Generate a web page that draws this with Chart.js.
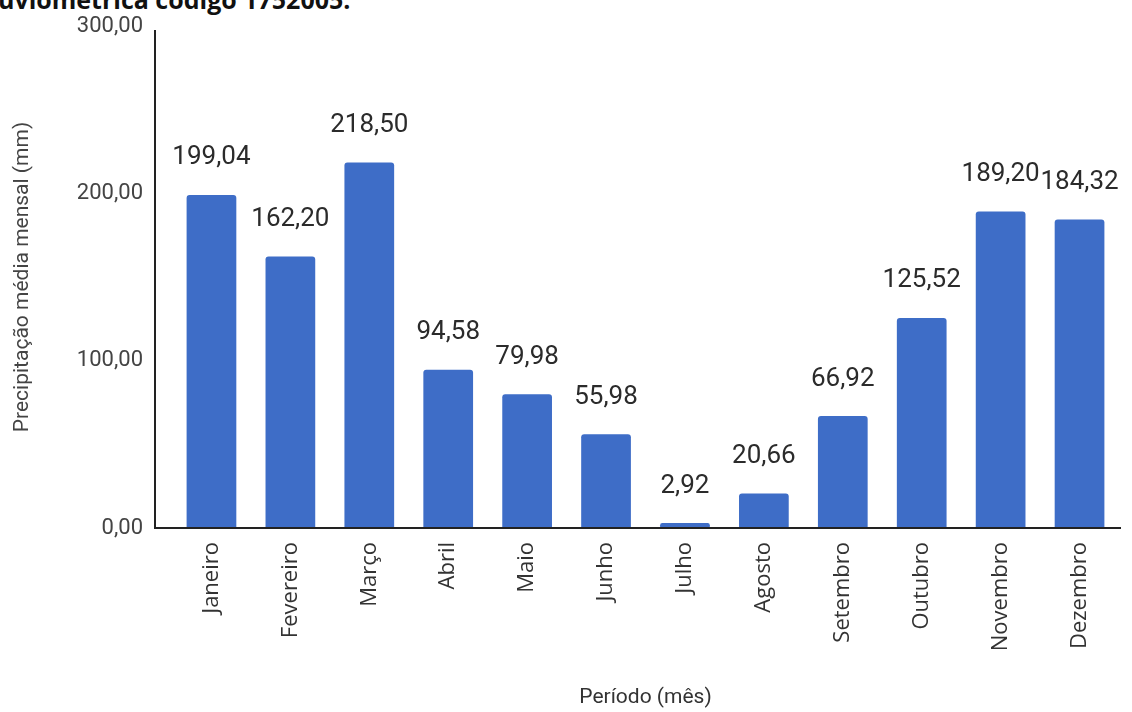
<!DOCTYPE html>
<html lang="pt-BR">
<head>
<meta charset="utf-8">
<title>Precipitação média mensal</title>
<script src="https://cdn.jsdelivr.net/npm/chart.js@4/dist/chart.umd.min.js"></script>
<style>
  html, body { margin: 0; padding: 0; background: #fff; overflow: hidden; }
  #wrap { position: relative; width: 1132px; height: 712px; }
  #caption {
    position: absolute; left: -2px; top: -18px; margin: 0;
    font: bold 25px "Open Sans", sans-serif; color: #111; white-space: nowrap;
  }
  canvas { position: absolute; left: 0; top: 0; }
</style>
</head>
<body>
<div id="wrap">
  <p id="caption">uviométrica código 1752005.</p>
  <canvas id="rainChart" width="1132" height="712"></canvas>
</div>
<script>
const months = ["Janeiro", "Fevereiro", "Março", "Abril", "Maio", "Junho",
  "Julho", "Agosto", "Setembro", "Outubro", "Novembro", "Dezembro"];
const rainfall = [199.04, 162.20, 218.50, 94.58, 79.98, 55.98,
  2.92, 20.66, 66.92, 125.52, 189.20, 184.32];
const yTicks = [0, 100, 200, 300];

const fmt = (v) => v.toFixed(2).replace(".", ",");

// value above each bar, plus the two axis lines (the y line sits a bit left of the plot)
const barLabels = {
  id: "barLabels",
  afterDatasetsDraw(chart) {
    const ctx = chart.ctx;
    const meta = chart.getDatasetMeta(0);
    ctx.save();
    ctx.font = "26px Roboto";
    ctx.fillStyle = "#2b2b2b";
    ctx.textAlign = "center";
    ctx.textBaseline = "middle";
    meta.data.forEach((bar, i) => {
      ctx.fillText(fmt(rainfall[i]), bar.x, bar.y - 37);
    });
    ctx.restore();
  },
  afterDraw(chart) {
    const { ctx, chartArea } = chart;
    const x0 = chartArea.left - 17;
    ctx.save();
    ctx.strokeStyle = "#222";
    ctx.lineWidth = 2;
    ctx.beginPath();
    ctx.moveTo(x0, chartArea.top + 4);
    ctx.lineTo(x0, chartArea.bottom);
    ctx.lineTo(chartArea.right + 2, chartArea.bottom);
    ctx.stroke();
    ctx.restore();
  },
};

new Chart(document.getElementById("rainChart").getContext("2d"), {
  type: "bar",
  data: {
    labels: months,
    datasets: [
      {
        label: "Precipitação média mensal (mm)",
        data: rainfall,
        backgroundColor: "#3e6dc7",
        borderRadius: 3,
        borderSkipped: "bottom",
        barPercentage: 0.63,
        categoryPercentage: 1,
      },
    ],
  },
  options: {
    responsive: false,
    animation: false,
    layout: { padding: { top: 26, right: 13, bottom: 0, left: 0 } },
    plugins: {
      legend: { display: false },
      tooltip: { enabled: false },
    },
    scales: {
      x: {
        afterFit: (scale) => { scale.height = 184; },
        grid: { display: false, drawTicks: false },
        border: { display: false },
        ticks: {
          maxRotation: 90,
          minRotation: 90,
          padding: 14,
          color: "#333",
          font: { family: "Open Sans", size: 22 },
        },
        title: {
          display: true,
          text: "Período (mês)",
          color: "#333",
          font: { family: "Roboto", size: 21 },
          padding: { top: 0, bottom: 2 },
        },
      },
      y: {
        min: 0,
        max: 300,
        afterFit: (scale) => { scale.width = 172; },
        afterBuildTicks: (scale) => { scale.ticks = yTicks.map((v) => ({ value: v })); },
        // invisible tick marks keep the labels clear of the offset axis line
        grid: {
          display: true,
          drawOnChartArea: false,
          drawTicks: true,
          tickLength: 25,
          tickColor: "rgba(0,0,0,0)",
          color: "rgba(0,0,0,0)",
        },
        border: { display: false },
        ticks: {
          padding: 4,
          color: "#444",
          font: { family: "Roboto", size: 22 },
          callback: (v) => fmt(v),
        },
        title: {
          display: true,
          text: "Precipitação média mensal (mm)",
          color: "#444",
          font: { family: "Roboto", size: 21 },
          padding: { top: 10, bottom: 0 },
        },
      },
    },
  },
  plugins: [barLabels],
});
</script>
</body>
</html>
